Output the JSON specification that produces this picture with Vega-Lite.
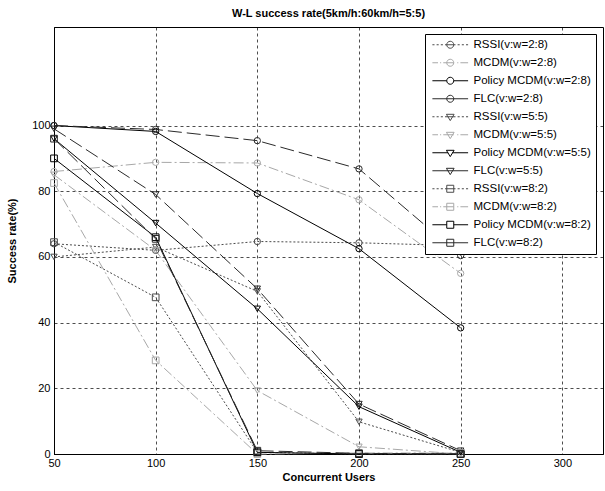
{
  "$schema": "https://vega.github.io/schema/vega-lite/v6.json",
  "autosize": "none",
  "width": 549,
  "height": 427,
  "padding": {"left": 54, "top": 27, "right": 2, "bottom": 37},
  "background": "white",
  "title": {"text": "W-L success rate(5km/h:60km/h=5:5)", "font": "Liberation Sans", "fontSize": 11, "fontWeight": "bold", "color": "black", "offset": 8, "anchor": "middle"},
  "data": {"values": [
    {"series": "RSSI(v:w=2:8)", "method": "RSSI", "w": "2:8", "users": 50, "rate": 64},
    {"series": "RSSI(v:w=2:8)", "method": "RSSI", "w": "2:8", "users": 100, "rate": 62},
    {"series": "RSSI(v:w=2:8)", "method": "RSSI", "w": "2:8", "users": 150, "rate": 64.7},
    {"series": "RSSI(v:w=2:8)", "method": "RSSI", "w": "2:8", "users": 200, "rate": 64.3},
    {"series": "RSSI(v:w=2:8)", "method": "RSSI", "w": "2:8", "users": 250, "rate": 63.4},
    {"series": "MCDM(v:w=2:8)", "method": "MCDM", "w": "2:8", "users": 50, "rate": 86},
    {"series": "MCDM(v:w=2:8)", "method": "MCDM", "w": "2:8", "users": 100, "rate": 88.8},
    {"series": "MCDM(v:w=2:8)", "method": "MCDM", "w": "2:8", "users": 150, "rate": 88.6},
    {"series": "MCDM(v:w=2:8)", "method": "MCDM", "w": "2:8", "users": 200, "rate": 77.4},
    {"series": "MCDM(v:w=2:8)", "method": "MCDM", "w": "2:8", "users": 250, "rate": 55},
    {"series": "Policy MCDM(v:w=2:8)", "method": "Policy", "w": "2:8", "users": 50, "rate": 100},
    {"series": "Policy MCDM(v:w=2:8)", "method": "Policy", "w": "2:8", "users": 100, "rate": 98.2},
    {"series": "Policy MCDM(v:w=2:8)", "method": "Policy", "w": "2:8", "users": 150, "rate": 79.3},
    {"series": "Policy MCDM(v:w=2:8)", "method": "Policy", "w": "2:8", "users": 200, "rate": 62.5},
    {"series": "Policy MCDM(v:w=2:8)", "method": "Policy", "w": "2:8", "users": 250, "rate": 38.4},
    {"series": "FLC(v:w=2:8)", "method": "FLC", "w": "2:8", "users": 50, "rate": 100},
    {"series": "FLC(v:w=2:8)", "method": "FLC", "w": "2:8", "users": 100, "rate": 98.8},
    {"series": "FLC(v:w=2:8)", "method": "FLC", "w": "2:8", "users": 150, "rate": 95.4},
    {"series": "FLC(v:w=2:8)", "method": "FLC", "w": "2:8", "users": 200, "rate": 86.8},
    {"series": "FLC(v:w=2:8)", "method": "FLC", "w": "2:8", "users": 250, "rate": 60.4},
    {"series": "RSSI(v:w=5:5)", "method": "RSSI", "w": "5:5", "users": 50, "rate": 60},
    {"series": "RSSI(v:w=5:5)", "method": "RSSI", "w": "5:5", "users": 100, "rate": 63},
    {"series": "RSSI(v:w=5:5)", "method": "RSSI", "w": "5:5", "users": 150, "rate": 49.5},
    {"series": "RSSI(v:w=5:5)", "method": "RSSI", "w": "5:5", "users": 200, "rate": 9.8},
    {"series": "RSSI(v:w=5:5)", "method": "RSSI", "w": "5:5", "users": 250, "rate": 0.5},
    {"series": "MCDM(v:w=5:5)", "method": "MCDM", "w": "5:5", "users": 50, "rate": 85},
    {"series": "MCDM(v:w=5:5)", "method": "MCDM", "w": "5:5", "users": 100, "rate": 62},
    {"series": "MCDM(v:w=5:5)", "method": "MCDM", "w": "5:5", "users": 150, "rate": 19.3},
    {"series": "MCDM(v:w=5:5)", "method": "MCDM", "w": "5:5", "users": 200, "rate": 2.2},
    {"series": "MCDM(v:w=5:5)", "method": "MCDM", "w": "5:5", "users": 250, "rate": 0},
    {"series": "Policy MCDM(v:w=5:5)", "method": "Policy", "w": "5:5", "users": 50, "rate": 96},
    {"series": "Policy MCDM(v:w=5:5)", "method": "Policy", "w": "5:5", "users": 100, "rate": 70.3},
    {"series": "Policy MCDM(v:w=5:5)", "method": "Policy", "w": "5:5", "users": 150, "rate": 44.2},
    {"series": "Policy MCDM(v:w=5:5)", "method": "Policy", "w": "5:5", "users": 200, "rate": 14.4},
    {"series": "Policy MCDM(v:w=5:5)", "method": "Policy", "w": "5:5", "users": 250, "rate": 0.5},
    {"series": "FLC(v:w=5:5)", "method": "FLC", "w": "5:5", "users": 50, "rate": 99},
    {"series": "FLC(v:w=5:5)", "method": "FLC", "w": "5:5", "users": 100, "rate": 79},
    {"series": "FLC(v:w=5:5)", "method": "FLC", "w": "5:5", "users": 150, "rate": 50.3},
    {"series": "FLC(v:w=5:5)", "method": "FLC", "w": "5:5", "users": 200, "rate": 15.2},
    {"series": "FLC(v:w=5:5)", "method": "FLC", "w": "5:5", "users": 250, "rate": 1},
    {"series": "RSSI(v:w=8:2)", "method": "RSSI", "w": "8:2", "users": 50, "rate": 64.5},
    {"series": "RSSI(v:w=8:2)", "method": "RSSI", "w": "8:2", "users": 100, "rate": 47.7},
    {"series": "RSSI(v:w=8:2)", "method": "RSSI", "w": "8:2", "users": 150, "rate": 0.5},
    {"series": "RSSI(v:w=8:2)", "method": "RSSI", "w": "8:2", "users": 200, "rate": 0},
    {"series": "RSSI(v:w=8:2)", "method": "RSSI", "w": "8:2", "users": 250, "rate": 0},
    {"series": "MCDM(v:w=8:2)", "method": "MCDM", "w": "8:2", "users": 50, "rate": 82.5},
    {"series": "MCDM(v:w=8:2)", "method": "MCDM", "w": "8:2", "users": 100, "rate": 28.5},
    {"series": "MCDM(v:w=8:2)", "method": "MCDM", "w": "8:2", "users": 150, "rate": 0},
    {"series": "MCDM(v:w=8:2)", "method": "MCDM", "w": "8:2", "users": 200, "rate": 0.3},
    {"series": "MCDM(v:w=8:2)", "method": "MCDM", "w": "8:2", "users": 250, "rate": 0.3},
    {"series": "Policy MCDM(v:w=8:2)", "method": "Policy", "w": "8:2", "users": 50, "rate": 90},
    {"series": "Policy MCDM(v:w=8:2)", "method": "Policy", "w": "8:2", "users": 100, "rate": 66},
    {"series": "Policy MCDM(v:w=8:2)", "method": "Policy", "w": "8:2", "users": 150, "rate": 0.5},
    {"series": "Policy MCDM(v:w=8:2)", "method": "Policy", "w": "8:2", "users": 200, "rate": 0},
    {"series": "Policy MCDM(v:w=8:2)", "method": "Policy", "w": "8:2", "users": 250, "rate": 0},
    {"series": "FLC(v:w=8:2)", "method": "FLC", "w": "8:2", "users": 50, "rate": 96},
    {"series": "FLC(v:w=8:2)", "method": "FLC", "w": "8:2", "users": 100, "rate": 65.5},
    {"series": "FLC(v:w=8:2)", "method": "FLC", "w": "8:2", "users": 150, "rate": 1},
    {"series": "FLC(v:w=8:2)", "method": "FLC", "w": "8:2", "users": 200, "rate": 0.2},
    {"series": "FLC(v:w=8:2)", "method": "FLC", "w": "8:2", "users": 250, "rate": 0}
  ]},
  "encoding": {
    "x": {"field": "users", "type": "quantitative", "title": "Concurrent Users",
      "scale": {"domain": [50, 320], "nice": false, "zero": false},
      "axis": {"values": [50, 100, 150, 200, 250, 300], "labelPadding": 3, "titlePadding": 3, "labelFlush": false}},
    "y": {"field": "rate", "type": "quantitative", "title": "Success rate(%)",
      "scale": {"domain": [0, 130], "nice": false},
      "axis": {"values": [0, 20, 40, 60, 80, 100], "labelPadding": 4, "titlePadding": 14, "labelFlush": false}},
    "color": {"field": "series", "type": "nominal", "legend": {"title": null},
      "scale": {"domain": ["RSSI(v:w=2:8)", "MCDM(v:w=2:8)", "Policy MCDM(v:w=2:8)", "FLC(v:w=2:8)", "RSSI(v:w=5:5)", "MCDM(v:w=5:5)", "Policy MCDM(v:w=5:5)", "FLC(v:w=5:5)", "RSSI(v:w=8:2)", "MCDM(v:w=8:2)", "Policy MCDM(v:w=8:2)", "FLC(v:w=8:2)"],
        "range": ["#4a4a4a", "#a8a8a8", "#000000", "#2a2a2a", "#4a4a4a", "#a8a8a8", "#000000", "#2a2a2a", "#4a4a4a", "#a8a8a8", "#000000", "#2a2a2a"]}}
  },
  "layer": [
    {
      "mark": {"type": "point", "filled": false, "size": 49, "strokeWidth": 1, "opacity": 1, "clip": true},
      "encoding": {
        "y": {"datum": -60},
        "shape": {"field": "series", "type": "nominal", "legend": {"title": null},
          "scale": {"domain": ["RSSI(v:w=2:8)", "MCDM(v:w=2:8)", "Policy MCDM(v:w=2:8)", "FLC(v:w=2:8)", "RSSI(v:w=5:5)", "MCDM(v:w=5:5)", "Policy MCDM(v:w=5:5)", "FLC(v:w=5:5)", "RSSI(v:w=8:2)", "MCDM(v:w=8:2)", "Policy MCDM(v:w=8:2)", "FLC(v:w=8:2)"],
            "range": [
              "M-5.1,0L-4.5,0M-3.9,0L-3.3,0M-2.7,0L-2.1,0M-1.5,0L1.5,0M2.1,0L2.7,0M3.3,0L3.9,0M4.5,0L5.1,0M1,0A1,1 0 1,1 -1,0A1,1 0 1,1 1,0",
              "M-5.1,0L-3.5,0M-2.9,0L-2.6,0M-2.0,0L1.0,0M2.0,0L2.3,0M2.9,0L5.1,0M1,0A1,1 0 1,1 -1,0A1,1 0 1,1 1,0",
              "M-5.1,0L-1,0M1,0L5.1,0M1,0A1,1 0 1,1 -1,0A1,1 0 1,1 1,0",
              "M-5.1,0L5.1,0M1,0A1,1 0 1,1 -1,0A1,1 0 1,1 1,0",
              "M-5.1,0L-4.5,0M-3.9,0L-3.3,0M-2.7,0L-2.1,0M-1.5,0L1.5,0M2.1,0L2.7,0M3.3,0L3.9,0M4.5,0L5.1,0M-1.1,-0.7L1.1,-0.7L0,1.1Z",
              "M-5.1,0L-3.5,0M-2.9,0L-2.6,0M-2.0,0L1.0,0M2.0,0L2.3,0M2.9,0L5.1,0M-1.1,-0.7L1.1,-0.7L0,1.1Z",
              "M-5.1,0L-0.6,0M0.6,0L5.1,0M-1.1,-0.7L1.1,-0.7L0,1.1Z",
              "M-5.1,0L5.1,0M-1.1,-0.7L1.1,-0.7L0,1.1Z",
              "M-5.1,0L-4.5,0M-3.9,0L-3.3,0M-2.7,0L-2.1,0M-1.5,0L1.5,0M2.1,0L2.7,0M3.3,0L3.9,0M4.5,0L5.1,0M-1,-1L1,-1L1,1L-1,1Z",
              "M-5.1,0L-3.5,0M-2.9,0L-2.6,0M-2.0,0L1.0,0M2.0,0L2.3,0M2.9,0L5.1,0M-1,-1L1,-1L1,1L-1,1Z",
              "M-5.1,0L-1,0M1,0L5.1,0M-1,-1L1,-1L1,1L-1,1Z",
              "M-5.1,0L5.1,0M-1,-1L1,-1L1,1L-1,1Z"
            ]}}
      }
    },
    {"transform": [{"filter": "datum.method == 'RSSI'"}], "mark": {"type": "line", "strokeWidth": 1, "strokeDash": [2, 2]}},
    {"transform": [{"filter": "datum.method == 'MCDM'"}], "mark": {"type": "line", "strokeWidth": 1, "strokeDash": [10, 3, 2, 3]}},
    {"transform": [{"filter": "datum.method == 'Policy'"}], "mark": {"type": "line", "strokeWidth": 1}},
    {"transform": [{"filter": "datum.method == 'FLC'"}], "mark": {"type": "line", "strokeWidth": 1, "strokeDash": [14, 5]}},
    {"transform": [{"filter": "datum.w == '2:8'"}], "mark": {"type": "point", "shape": "circle", "filled": false, "size": 40, "strokeWidth": 1, "opacity": 1}},
    {"transform": [{"filter": "datum.w == '5:5'"}], "mark": {"type": "point", "shape": "triangle-down", "filled": false, "size": 40, "strokeWidth": 1, "opacity": 1}},
    {"transform": [{"filter": "datum.w == '8:2'"}], "mark": {"type": "point", "shape": "square", "filled": false, "size": 45, "strokeWidth": 1, "opacity": 1}}
  ],
  "config": {
    "font": "Liberation Sans",
    "view": {"stroke": "black", "strokeWidth": 1},
    "axis": {"labelFont": "Liberation Sans", "labelFontSize": 11, "labelColor": "black",
      "titleFont": "Liberation Sans", "titleFontSize": 11, "titleFontWeight": "bold", "titleColor": "black",
      "domainColor": "black", "domainWidth": 1, "tickSize": 0,
      "gridColor": "black", "gridDash": [3, 3], "gridOpacity": 1, "gridWidth": 0.7},
    "legend": {"orient": "top-right", "offset": 7, "symbolSize": 49, "symbolOffset": 14.5, "labelOffset": 17.5, "symbolStrokeWidth": 1,
      "labelFont": "Liberation Sans", "labelFontSize": 11.5, "labelColor": "black",
      "fillColor": "white", "strokeColor": "black", "padding": 5, "cornerRadius": 0,
      "rowPadding": 5, "labelLimit": 300}
  }
}
